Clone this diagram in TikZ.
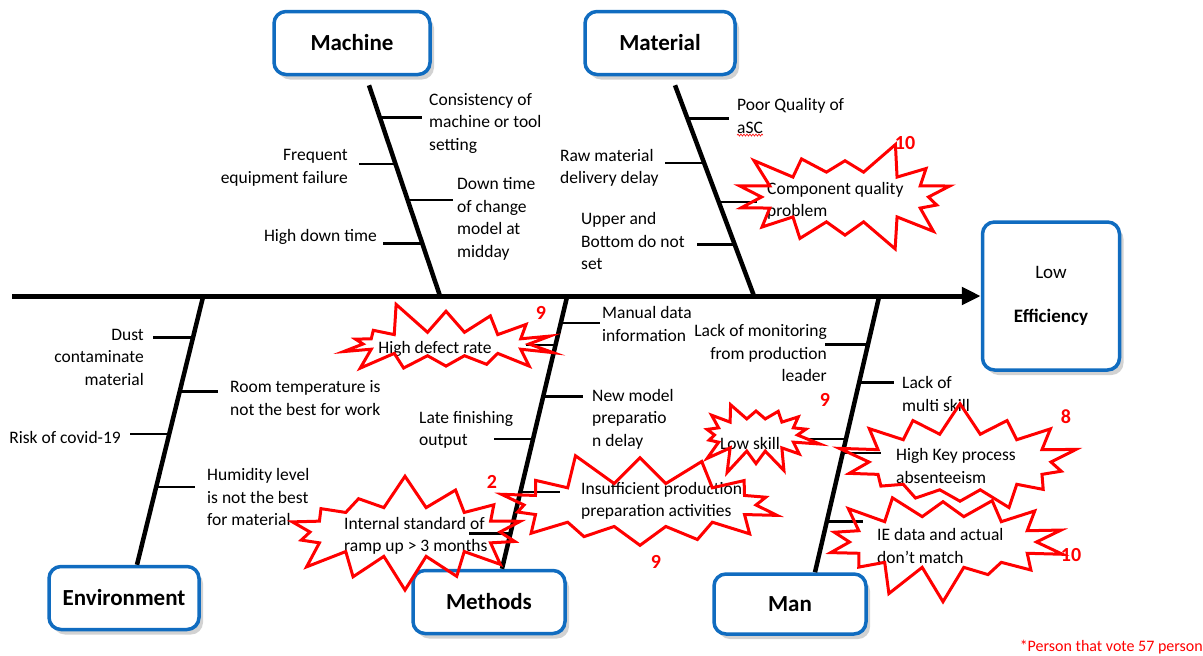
\documentclass[tikz,border=0pt]{standalone}
\usepackage{fontspec}
\setmainfont{Carlito}
\usetikzlibrary{arrows.meta,positioning,shapes.symbols,shadows,calc,decorations.pathmorphing}
\definecolor{boxblue}{RGB}{16,108,192}
\definecolor{votered}{RGB}{255,0,0}

\begin{document}
\begin{tikzpicture}[x=1pt,y=-1pt,
  cat/.style={draw=boxblue,line width=3.5pt,rounded corners=12pt,fill=white,
    drop shadow={shadow xshift=4pt,shadow yshift=-5pt,fill=black!35},
    font=\fontsize{23}{28}\selectfont\bfseries,minimum height=63pt},
  cause/.style={font=\fontsize{17.5}{22.5}\selectfont,inner sep=0pt},
  bone/.style={line width=4.5pt},
  twig/.style={line width=2.5pt},
  burst/.style={starburst,draw=votered,line width=3pt,inner sep=0pt,
    starburst points=14,starburst point height=34pt},
  vote/.style={text=votered,font=\fontsize{20}{24}\selectfont\bfseries,inner sep=0pt}]

\useasboundingbox (0,0) rectangle (1203,656);

% Category boxes
\node[cat,minimum width=156pt] (machine) at (352,43) {Machine};
\node[cat,minimum width=150pt] (material) at (660,43) {Material};
\node[cat,minimum width=150pt] (environment) at (124,598) {Environment};
\node[cat,minimum width=152pt] (methods) at (489,602) {Methods};
\node[cat,minimum width=152pt,minimum height=60pt] (man) at (790,604) {Man};

% Effect
\node[cat,minimum width=137pt,minimum height=148pt,align=center,
  font=\fontsize{19}{22.5}\selectfont] (effect) at (1051,296) {Low\\[22pt]\textbf{Efficiency}};

% Spine
\coordinate (tail) at (12,296);
\draw[line width=5pt,-{Triangle[length=19pt,width=17pt]}] (tail) -- (effect);

% Bones
\coordinate (mach-a) at ([xshift=17pt,yshift=-9pt]machine.south);
\coordinate (mach-b) at (440,296);
\coordinate (mat-a) at ([xshift=15pt,yshift=-9pt]material.south);
\coordinate (mat-b) at (754,296);
\coordinate (env-a) at (203,297);
\coordinate (env-b) at ([xshift=13pt]environment.north);
\coordinate (meth-a) at (567,297);
\coordinate (meth-b) at ([xshift=13pt]methods.north);
\coordinate (man-a) at (879,297);
\coordinate (man-b) at ([xshift=25pt]man.north);
\draw[bone] (mach-a) -- (mach-b);
\draw[bone] (mat-a) -- (mat-b);
\draw[bone] (env-a) -- (env-b);
\draw[bone] (meth-a) -- (meth-b);
\draw[bone] (man-a) -- (man-b);

% Machine causes
\draw[twig] ($(mach-a)!0.153!(mach-b)$) -- ++(42,0);
\draw[twig] ($(mach-a)!0.374!(mach-b)$) -- ++(-37,0);
\draw[twig] ($(mach-a)!0.544!(mach-b)$) -- ++(45,0);
\draw[twig] ($(mach-a)!0.751!(mach-b)$) -- ++(-39,0);
\node[cause,anchor=west,align=left] (cons) at (429,123) {Consistency of\\machine or tool\\setting};
\node[cause,anchor=east,align=right] (freq) at (348,168) {Frequent\\equipment failure};
\node[cause,anchor=west,align=left] (down) at (457,219) {Down time\\of change\\model at\\midday};
\node[cause,anchor=east] (high) at (377,237) {High down time};

% Material causes
\draw[twig] ($(mat-a)!0.158!(mat-b)$) -- ++(42,0);
\draw[twig] ($(mat-a)!0.369!(mat-b)$) -- ++(-39,0);
\draw[twig] ($(mat-a)!0.553!(mat-b)$) -- ++(38,0);
\draw[twig] ($(mat-a)!0.755!(mat-b)$) -- ++(-38,0);
\node[cause,anchor=west,align=left] (poor) at (737,116) {Poor Quality of\\aSC};
\draw[votered,line width=0.6pt,decorate,decoration={snake,amplitude=1pt,segment length=3pt}]
  ([yshift=-1.5pt]poor.south west) -- ++(26,0);
\node[cause,anchor=west,align=left] (raw) at (560,168) {Raw material\\delivery delay};
\node[cause,anchor=west,align=left] (comp) at (767,201) {Component quality\\problem};
\node[cause,anchor=west,align=left] (upper) at (581,241) {Upper and\\Bottom do not\\set};

% Environment causes
\draw[twig] ($(env-a)!0.152!(env-b)$) -- ++(-40,0);
\draw[twig] ($(env-a)!0.353!(env-b)$) -- ++(38,0);
\draw[twig] ($(env-a)!0.512!(env-b)$) -- ++(-39,0);
\draw[twig] ($(env-a)!0.709!(env-b)$) -- ++(39,0);
\node[cause,anchor=east,align=right] (dust) at (144,357) {Dust\\contaminate\\material};
\node[cause,anchor=west,align=left] (room) at (230,398) {Room temperature is\\not the best for work};
\node[cause,anchor=east] (risk) at (121,437) {Risk of covid-19};
\node[cause,anchor=west,align=left] (humid) at (207,497) {Humidity level\\is not the best\\for material};

% Methods causes
\draw[twig] ($(meth-a)!0.095!(meth-b)$) -- ++(39,0);
\draw[twig] ($(meth-a)!0.176!(meth-b)$) -- ++(-30,0);
\draw[twig] ($(meth-a)!0.366!(meth-b)$) -- ++(40,0);
\draw[twig] ($(meth-a)!0.523!(meth-b)$) -- ++(-39,0);
\draw[twig] ($(meth-a)!0.717!(meth-b)$) -- ++(40,0);
\draw[twig] ($(meth-a)!0.870!(meth-b)$) -- ++(-41,0);
\node[cause,anchor=west,align=left] (manual) at (602,324) {Manual data\\information};
\node[cause] (defect) at (435,349) {High defect rate};
\node[cause,anchor=west,align=left] (newmodel) at (592,419) {New model\\preparatio\\n delay};
\node[cause,anchor=west,align=left] (late) at (419,430) {Late finishing\\output};
\node[cause,anchor=west,align=left] (insuf) at (581,501) {Insufficient production\\preparation activities};
\node[cause,anchor=west,align=left] (internal) at (344,536) {Internal standard of\\ramp up > 3 months};

% Man causes
\draw[twig] ($(man-a)!0.173!(man-b)$) -- ++(-43,0);
\draw[twig] ($(man-a)!0.31!(man-b)$) -- ++(35,0);
\draw[twig] ($(man-a)!0.516!(man-b)$) -- ++(-41,0);
\draw[twig] ($(man-a)!0.567!(man-b)$) -- ++(38,0);
\draw[twig] ($(man-a)!0.816!(man-b)$) -- ++(36,0);
\node[cause,anchor=east,align=right] (monitor) at (827,353) {Lack of monitoring\\from production\\leader};
\node[cause,anchor=west,align=left] (multi) at (902,394) {Lack of\\multi skill};
\node[cause] (lowskill) at (750,443) {Low skill};
\node[cause,anchor=west,align=left] (keyproc) at (896,466) {High Key process\\absenteeism};
\node[cause,anchor=west,align=left] (iedata) at (877,546) {IE data and actual\\don’t match};

% Votes
\node[burst,minimum width=235pt,minimum height=119pt,random starburst=3] (b-comp) at (845,197) {};
\node[burst,minimum width=234pt,minimum height=92pt,random starburst=5] (b-defect) at (446,344) {};
\node[burst,minimum width=258pt,minimum height=118pt,random starburst=7] (b-internal) at (405,532) {};
\node[burst,minimum width=300pt,minimum height=112pt,random starburst=11] (b-insuf) at (640,505) {};
\node[burst,minimum width=135pt,minimum height=85pt,starburst point height=26pt,random starburst=13] (b-low) at (756,435) {};
\node[burst,minimum width=250pt,minimum height=125pt,random starburst=17] (b-key) at (960,462) {};
\node[burst,minimum width=255pt,minimum height=120pt,random starburst=19] (b-ie) at (943,542) {};
\node[vote] (v-comp) at (905,143) {10};
\node[vote] (v-defect) at (541,313) {9};
\node[vote] (v-internal) at (492,482) {2};
\node[vote] (v-insuf) at (656,562) {9};
\node[vote] (v-low) at (825,400) {9};
\node[vote] (v-key) at (1066,417) {8};
\node[vote] (v-ie) at (1071,555) {10};

% Note
\node[text=votered,font=\fontsize{16}{19}\selectfont,anchor=east,inner sep=0pt] (note) at (1203,647) {*Person that vote 57 person};
\end{tikzpicture}
\end{document}
